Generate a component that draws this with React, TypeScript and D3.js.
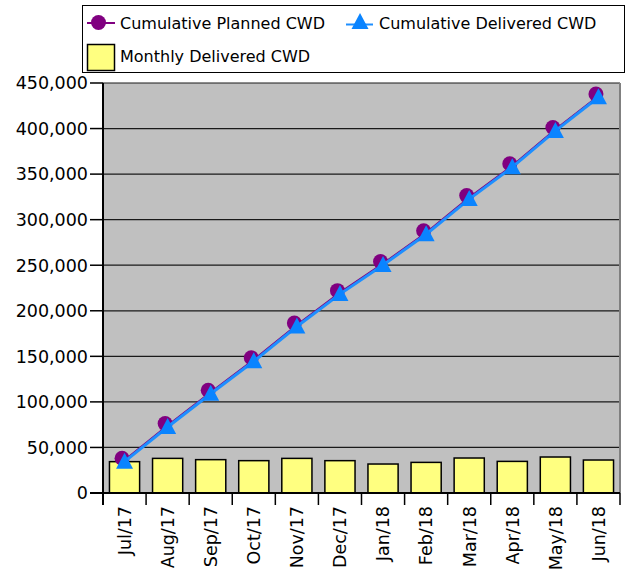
import * as d3 from 'd3';
import * as React from 'react';

const W = 627;
const H = 576;
const plot = { left: 103, right: 620, top: 83, bottom: 493 };

const months = ['Jul/17', 'Aug/17', 'Sep/17', 'Oct/17', 'Nov/17', 'Dec/17', 'Jan/18', 'Feb/18', 'Mar/18', 'Apr/18', 'May/18', 'Jun/18'];
const monthlyDelivered = [34400, 38000, 36600, 35500, 38000, 35500, 31800, 33600, 38400, 34700, 39500, 36200];
const cumulativePlanned = [36000, 74000, 110600, 146200, 184300, 219900, 251800, 285600, 324200, 359200, 399000, 435800];
const cumulativeDelivered = [34400, 72400, 109000, 144600, 182700, 218300, 250200, 284000, 322600, 357600, 397400, 434300];
const yTicks = [0, 50000, 100000, 150000, 200000, 250000, 300000, 350000, 400000, 450000];

const FONT = '"DejaVu Sans", Verdana, sans-serif';
const PURPLE = '#800080';
const BLUE = '#0a84ff';
const LINE_BLUE = '#1e8fff';
const BAR = '#ffff80';

// marker shapes (relative to the point)
const TRI = 'M0,-9L8.5,7L-8.5,7Z';
const CIRCLE_SHIFT = { dx: -2.5, dy: -2 };

export default function App() {
  const x = d3.scaleBand<string>().domain(months).range([plot.left, plot.right]).paddingInner(0.3).paddingOuter(0.15);
  const y = d3.scaleLinear().domain([0, 450000]).range([plot.bottom, plot.top]);
  const cx = (m: string) => (x(m) as number) + x.bandwidth() / 2;
  const fmt = d3.format(',');

  const line = d3.line<number>().x((_, i) => cx(months[i])).y(d => y(d));

  const step = (plot.right - plot.left) / months.length;
  const bounds = d3.range(months.length + 1).map(i => plot.left + i * step);

  return (
    <svg width={W} height={H} style={{ position: 'absolute', left: 0, top: 0 }} fontFamily={FONT}>
      <rect x={plot.left} y={plot.top} width={plot.right - plot.left} height={plot.bottom - plot.top} fill="#c0c0c0" />
      {yTicks.map(t => (
        <line key={t} x1={plot.left} x2={plot.right} y1={y(t)} y2={y(t)} stroke="#1a1a1a" strokeWidth={1.2} />
      ))}
      <line x1={plot.right} x2={plot.right} y1={plot.top} y2={plot.bottom} stroke="#808080" strokeWidth={2} />

      {months.map((m, i) => (
        <rect key={m} x={x(m)} y={y(monthlyDelivered[i])} width={x.bandwidth()} height={plot.bottom - y(monthlyDelivered[i])}
          fill={BAR} stroke="#000" strokeWidth={1.5} />
      ))}

      {cumulativePlanned.map((v, i) => (
        <circle key={i} cx={cx(months[i]) + CIRCLE_SHIFT.dx} cy={y(v) + CIRCLE_SHIFT.dy} r={7.5} fill={PURPLE} />
      ))}
      <path d={line(cumulativePlanned) as string} fill="none" stroke={PURPLE} strokeWidth={2} />
      <path d={line(cumulativeDelivered) as string} fill="none" stroke={LINE_BLUE} strokeWidth={3} />
      {cumulativeDelivered.map((v, i) => (
        <path key={i} d={TRI} transform={`translate(${cx(months[i])},${y(v)})`} fill={BLUE} />
      ))}

      {/* axes */}
      <line x1={plot.left} x2={plot.left} y1={plot.top} y2={plot.bottom + 12} stroke="#000" strokeWidth={2} />
      <line x1={plot.left - 13} x2={plot.right} y1={plot.bottom} y2={plot.bottom} stroke="#000" strokeWidth={2} />
      {yTicks.map(t => (
        <g key={t}>
          <line x1={plot.left - 13} x2={plot.left} y1={y(t)} y2={y(t)} stroke="#000" strokeWidth={1.5} />
          <text x={plot.left - 15} y={y(t)} dy="0.36em" textAnchor="end" fontSize={17.5} fill="#000">{fmt(t)}</text>
        </g>
      ))}
      {bounds.map((b, i) => (
        <line key={i} x1={b} x2={b} y1={plot.bottom} y2={plot.bottom + 12} stroke="#000" strokeWidth={1.5} />
      ))}
      {months.map(m => (
        <text key={m} transform={`translate(${cx(m)},${plot.bottom + 13}) rotate(-90)`} dy="0.36em" textAnchor="end"
          fontSize={17.5} fill="#000">{m}</text>
      ))}

      {/* legend */}
      <rect x={82.5} y={5.5} width={542} height={67} fill="#fff" stroke="#000" strokeWidth={1} />
      <line x1={87} x2={115} y1={23} y2={23} stroke={PURPLE} strokeWidth={2} />
      <circle cx={98.5} cy={22.5} r={7.5} fill={PURPLE} />
      <text x={120} y={23} dy="0.36em" fontSize={16}>Cumulative Planned CWD</text>
      <line x1={346} x2={373} y1={24.5} y2={24.5} stroke={LINE_BLUE} strokeWidth={2} />
      <path d={TRI} transform="translate(360,22)" fill={BLUE} />
      <text x={379} y={23} dy="0.36em" fontSize={16}>Cumulative Delivered CWD</text>
      <rect x={87.5} y={44.5} width={27} height={26} fill={BAR} stroke="#000" strokeWidth={1.5} />
      <text x={120} y={56} dy="0.36em" fontSize={16}>Monthly Delivered CWD</text>
    </svg>
  );
}
